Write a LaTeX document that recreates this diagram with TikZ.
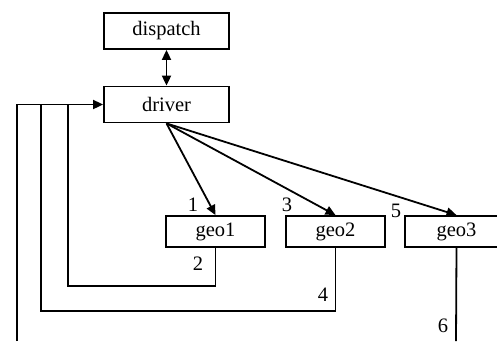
\documentclass[tikz,border=0pt]{standalone}
\usepackage{fontspec}
\setmainfont{Liberation Serif}
\usetikzlibrary{arrows.meta}

\begin{document}
\begin{tikzpicture}[x=1pt,y=-1pt,line width=1.8pt,
    box/.style={draw,rectangle,inner sep=0pt,minimum width=125pt,minimum height=36pt,font=\fontsize{20.5}{24}\selectfont},
    geobox/.style={box,minimum width=99pt,minimum height=31pt},
    num/.style={font=\fontsize{20.5}{24}\selectfont,inner sep=0pt},
    tip/.style={-{Triangle[length=10pt,width=9pt]}}]

    \useasboundingbox (0,0) rectangle (497,341);

    % draw boxes
    \node[box] (dispatch) at (166.5,31) {dispatch};
    \node[box] (driver) at (166.5,104.5) {driver};
    \node[geobox] (geo1) at (215.5,231.5) {geo1};
    \node[geobox] (geo2) at (335.5,231.5) {geo2};
    \node[geobox,minimum width=103pt] (geo3) at (456.5,231.5) {geo3};

    % dispatch <-> driver
    \draw[{Triangle[length=10pt,width=9pt]}-{Triangle[length=10pt,width=9pt]}] (dispatch.south) -- (driver.north);

    % calls from driver
    \draw[tip] (driver.south) -- (geo1.north);
    \draw[tip] (driver.south) -- (geo2.north);
    \draw[tip] (driver.south) -- (geo3.north);

    % return paths
    \coordinate (back1) at (68,104.5);
    \coordinate (back2) at (41,104.5);
    \coordinate (back3) at (17,104.5);
    \coordinate (low1) at (68,286);
    \coordinate (low2) at (41,311);
    \coordinate (low3) at (17,341);
    \coordinate (end3) at (456,341);
    \draw (geo1.south) |- (low1) -- (back1);
    \draw (geo2.south) |- (low2) -- (back2);
    \draw (geo3.south) -- (end3);
    \draw[tip] (low3) -- (back3) -- (driver.west);

    % step numbers
    \node[num] (n1) at (193,205) {1};
    \node[num] (n3) at (287,205) {3};
    \node[num] (n5) at (396,211) {5};
    \node[num] (n2) at (198,264) {2};
    \node[num] (n4) at (323,295) {4};
    \node[num] (n6) at (443,326) {6};
\end{tikzpicture}
\end{document}
